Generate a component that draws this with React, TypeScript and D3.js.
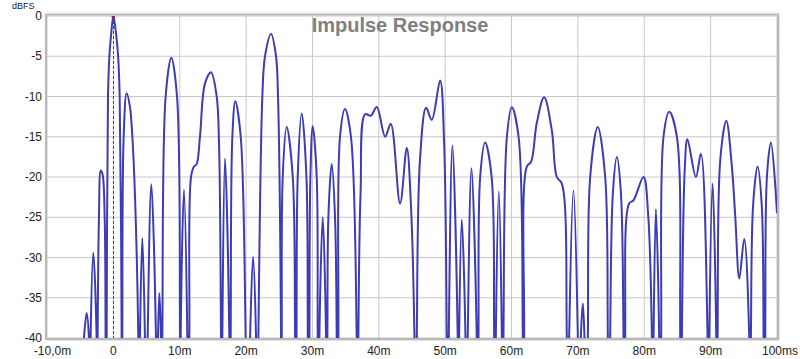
import React from 'react';
import * as d3 from 'd3';

// y axis (dBFS) and x axis (ms) ticks
const yTicks = [0, -5, -10, -15, -20, -25, -30, -35, -40];
const xTicks = [-10, 0, 10, 20, 30, 40, 50, 60, 70, 80, 90, 100];
const xTickLabels = ['-10,0m', '0', '10m', '20m', '30m', '40m', '50m', '60m', '70m', '80m', '90m', '100ms'];

// impulse envelope, [time ms, level dBFS]
// -40 = where a lobe meets the floor, -60 = null below the visible range
const preRinging: [number, number][] = [
  [-4.43, -40], [-4.03, -36.9], [-3.68, -40], [-3.55, -60],
  [-3.43, -40], [-3.03, -29.4], [-2.52, -40], [-2.45, -60],
  [-2.37, -40], [-2.17, -25], [-1.9, -19.2], [-1.62, -19.7], [-1.31, -25], [-1.17, -40], [-1.09, -60],
];

const earlyLobes: [number, number][] = [
  [-1.01, -40], [-0.81, -10], [-0.6, -5], [-0.36, -2.5], [0, 0], [0.44, -2.5], [0.72, -5], [0.95, -10], [1.25, -40], [1.3, -60],
  [1.35, -40], [1.55, -15], [2.0, -9.6], [2.5, -11.3], [2.86, -15], [3.26, -22.4], [3.76, -40], [3.88, -60],
  [4.01, -40], [4.36, -27.6], [4.76, -40], [4.95, -60],
  [5.17, -40], [5.72, -20.9], [6.42, -40], [6.55, -60],
  [6.72, -40], [6.93, -34.4], [7.17, -40], [7.27, -60],
  [7.38, -40], [7.88, -10], [8.73, -5.2], [9.59, -10], [10.04, -40], [10.09, -60],
  [10.14, -40], [10.64, -21.6], [11.15, -40], [11.3, -60],
  [11.45, -40], [11.7, -20], [12.15, -18.7], [12.55, -18.4], [13.05, -15.0], [13.8, -8.4],
  [14.71, -7.0], [15.57, -10.0], [15.92, -15.8], [16.22, -40], [16.32, -60],
  [16.42, -40], [16.82, -17.7], [17.48, -40], [17.58, -60],
  [17.68, -40], [17.93, -15], [18.38, -10.6], [19.19, -15], [19.94, -40], [20.27, -60],
  [20.6, -40], [21.05, -29.9], [21.5, -40], [21.68, -60],
  [21.85, -40], [22.45, -10], [22.85, -5], [23.76, -2.24], [24.51, -5], [24.81, -10], [25.27, -40], [25.32, -60],
];

const midLobes: [number, number][] = [
  [25.37, -40], [25.52, -20], [26.12, -13.8], [27.03, -20], [27.38, -40], [27.49, -60],
  [27.6, -40], [27.78, -20], [28.38, -12.1], [29.09, -20], [29.3, -40], [29.42, -60],
  [29.54, -40], [29.69, -20], [30.04, -13.7], [30.64, -20], [30.79, -40], [30.92, -60],
  [31.04, -40], [31.55, -25.0], [32.05, -40], [32.15, -60],
  [32.25, -40], [32.4, -25], [32.9, -18.4], [33.4, -25], [33.66, -40], [33.79, -60],
  [33.91, -40], [34.15, -15], [34.91, -11.55], [35.8, -15], [36.67, -40], [36.8, -60],
  [36.92, -40], [37.25, -22], [37.93, -12.2], [38.78, -12.4], [39.69, -11.3], [40.95, -15.0],
  [41.8, -13.4], [43.2, -23.3], [44.21, -16.4], [44.87, -24], [45.37, -40], [45.55, -60],
  [45.72, -40], [46.2, -17.9], [47.13, -11.4], [47.98, -12.9], [49.24, -8.0], [49.84, -15.8], [50.24, -40], [50.39, -60],
  [50.54, -40], [51.09, -16.1], [51.89, -40], [52.0, -60],
  [52.1, -40], [52.5, -25.3], [53.06, -40], [53.23, -60],
  [53.4, -40], [53.96, -18.9], [54.76, -40], [54.89, -60],
  [55.02, -40], [55.27, -20], [56.02, -15.7], [57.0, -20], [57.38, -40], [57.5, -60],
  [57.63, -40], [58.08, -21.8], [58.54, -40], [58.66, -60],
  [58.78, -40], [59.3, -15], [60.04, -11.35], [61.06, -15], [61.7, -40], [61.8, -60],
];

const lateLobes: [number, number][] = [
  [61.9, -40], [62.3, -18.7], [62.95, -18.1], [63.8, -13.3], [64.91, -10.1], [66.07, -14.2],
  [66.82, -20.0], [67.57, -20.8], [68.33, -40], [68.5, -60],
  [68.68, -40], [69.33, -21.7], [69.99, -40], [70.2, -60],
  [70.44, -40], [70.75, -35.7], [70.99, -40], [71.25, -60],
  [71.5, -40], [71.85, -20], [72.99, -13.8], [74.11, -20], [74.51, -40], [74.68, -60],
  [74.86, -40], [75.27, -22], [75.87, -17.5], [76.48, -22], [76.87, -40], [77.0, -60],
  [77.12, -40], [77.72, -23.3], [78.37, -22.9], [79.89, -20.0], [80.6, -24.9], [81.15, -40], [81.28, -60],
  [81.4, -40], [81.75, -24.0], [82.25, -40], [82.4, -60],
  [82.55, -40], [82.9, -15], [83.76, -11.9], [84.91, -15], [85.42, -40], [85.55, -60],
  [85.67, -40], [86.1, -19], [86.5, -15.3], [87.78, -20.0], [88.53, -17.1], [89.54, -40], [89.67, -60],
  [89.79, -40], [90.29, -20.8], [90.85, -40], [90.95, -60],
  [91.05, -40], [91.45, -17.9], [92.36, -13.0], [93.2, -18.7], [93.71, -24.9], [94.32, -32.6],
  [95.06, -27.7], [95.82, -40], [95.95, -60],
  [96.07, -40], [96.4, -23.5], [97.07, -18.7], [97.7, -23.5], [97.98, -40], [98.1, -60],
  [98.23, -40], [98.48, -20], [99.09, -15.7], [100, -24.5],
];

const font = 'Arial, "Liberation Sans", sans-serif';

export default function App() {
  const width = 800;
  const height = 359;
  const left = 47, right = 777, top = 16, bottom = 338;

  const x = d3.scaleLinear().domain([-10, 100]).range([left, right]);
  const y = d3.scaleLinear().domain([-40, 0]).range([bottom, top]);

  const pts = [...preRinging, ...earlyLobes, ...midLobes, ...lateLobes];
  const line = d3.line<[number, number]>()
    .x(d => x(d[0]))
    .y(d => y(d[1]))
    .curve(d3.curveCatmullRom.alpha(0.5));

  const zeroX = Math.round(x(0)) + 0.5;

  return (
    <svg width={width} height={height} style={{ position: 'absolute', left: 0, top: 0, background: '#fff' }}>
      <defs>
        <clipPath id="plot">
          <rect x={left} y={top} width={right - left} height={bottom - top} />
        </clipPath>
      </defs>

      {/* grid */}
      {yTicks.map(t => (
        <line key={'gy' + t} x1={left} x2={right} y1={y(t)} y2={y(t)} stroke="#c8c8c8" strokeWidth={1} />
      ))}
      {xTicks.map(t => (
        <line key={'gx' + t} x1={x(t)} x2={x(t)} y1={top} y2={bottom} stroke="#c8c8c8" strokeWidth={1} />
      ))}

      <text x={400} y={32} textAnchor="middle" fontFamily={font} fontWeight="bold" fontSize={20} fill="#808080">
        Impulse Response
      </text>

      <g clipPath="url(#plot)">
        <path d={line(pts) || ''} fill="none" stroke="#3c3cb4" strokeWidth={2} strokeLinejoin="round" />
        <line x1={zeroX} x2={zeroX} y1={top} y2={bottom} stroke="#cc1010" strokeWidth={1} strokeDasharray="3,2" />
        <circle cx={x(0)} cy={y(0) + 1} r={1.8} fill="#a02040" />
      </g>

      {/* frame */}
      <rect x={left - 1} y={top - 1.5} width={right - left + 2} height={bottom - top + 2.5}
        fill="none" stroke="#b8b8b8" strokeWidth={2} />
      <line x1={left} x2={right + 2} y1={top - 3} y2={top - 3} stroke="#e4e4e4" strokeWidth={1} />
      <line x1={right + 2.5} x2={right + 2.5} y1={top - 3} y2={bottom + 2} stroke="#e4e4e4" strokeWidth={1} />
      <line x1={left} x2={right + 2} y1={bottom + 2.5} y2={bottom + 2.5} stroke="#e4e4e4" strokeWidth={1} />

      {/* axis labels */}
      <text x={12} y={9} fontFamily={font} fontSize={9} fill="#222">dBFS</text>
      {yTicks.map(t => (
        <text key={'ly' + t} x={42} y={y(t) + 4} textAnchor="end" fontFamily={font} fontSize={12} fill="#222">
          {t}
        </text>
      ))}
      {xTicks.map((t, i) => {
        const tx = t === -10 ? x(t) + 5.5 : t === 100 ? x(t) - 15 : x(t);
        return (
          <text key={'lx' + t} x={tx} y={355} textAnchor={t === 100 ? 'start' : 'middle'}
            fontFamily={font} fontSize={12} fill="#222">
            {xTickLabels[i]}
          </text>
        );
      })}
    </svg>
  );
}
